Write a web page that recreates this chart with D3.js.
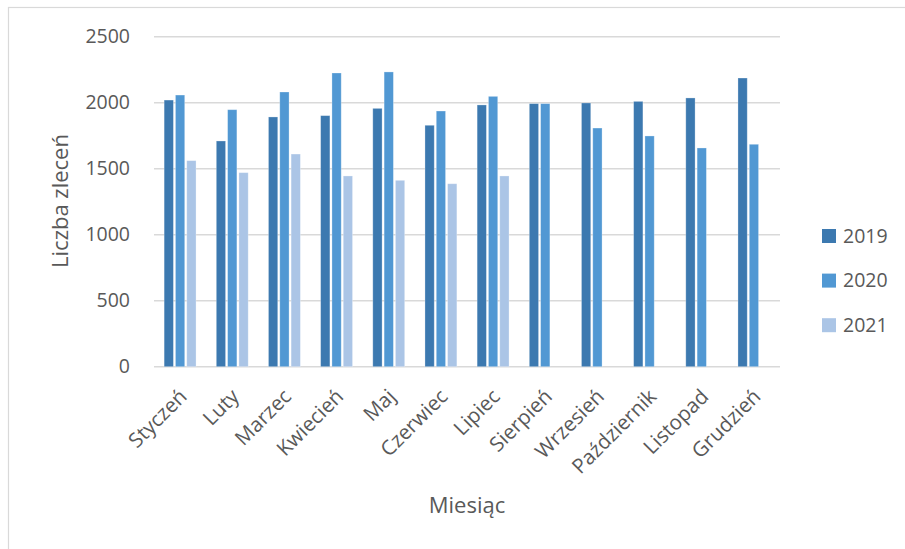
<!DOCTYPE html>
<html>
<head>
<meta charset="utf-8">
<script src="https://cdn.jsdelivr.net/npm/d3@7"></script>
<style>
  html, body { margin: 0; padding: 0; background: #fff; }
  svg { display: block; font-family: "Open Sans", sans-serif; }
</style>
</head>
<body>
<svg id="chart" width="905" height="549"></svg>
<script>
const months = ["Styczeń","Luty","Marzec","Kwiecień","Maj","Czerwiec","Lipiec","Sierpień","Wrzesień","Październik","Listopad","Grudzień"];
const seriesNames = ["2019","2020","2021"];
const values2019 = [2020,1710,1892,1902,1957,1829,1983,1993,1998,2010,2036,2187];
const values2020 = [2058,1947,2081,2225,2233,1937,2048,1993,1808,1748,1657,1685];
const values2021 = [1561,1470,1611,1445,1412,1386,1445,null,null,null,null,null];
const yTicks = [0,500,1000,1500,2000,2500];
const colors = ["#3C79B0","#5198D3","#ABC5E6"];

const allSeries = [values2019, values2020, values2021];
const svg = d3.select("#chart");
const W = 905, H = 549;
const plot = {left:154, right:780, top:36.7, bottom:366.7};

// chart border
svg.append("rect").attr("x",8.5).attr("y",7.5).attr("width",W).attr("height",H)
  .attr("fill","none").attr("stroke","#D9D9D9").attr("stroke-width",1.2);

const y = d3.scaleLinear().domain([0,2500]).range([plot.bottom, plot.top]);
const pi = 1 - 31.9/52.1667;
const x0 = d3.scaleBand().domain(months).range([plot.left, plot.right]).paddingInner(pi).paddingOuter(pi/2);
const x1 = d3.scaleBand().domain(seriesNames).range([0, x0.bandwidth()]).paddingInner(0.18).paddingOuter(0);

// gridlines
svg.append("g").selectAll("line").data(yTicks).join("line")
  .attr("x1",plot.left).attr("x2",plot.right)
  .attr("y1",d=>y(d)).attr("y2",d=>y(d))
  .attr("stroke","#D9D9D9").attr("stroke-width",1.5);

// y axis labels
const yAxis = d3.axisLeft(y).tickValues(yTicks).tickFormat(d3.format("d")).tickSize(0).tickPadding(0);
const gy = svg.append("g").attr("transform",`translate(130,0)`).call(yAxis);
gy.select(".domain").remove();
gy.selectAll("text").attr("font-family","Open Sans").attr("font-size","19.5px").attr("fill","#595959");

// bars
const barData = [];
months.forEach((m,i)=>{
  seriesNames.forEach((s,j)=>{
    const v = allSeries[j][i];
    if (v !== null) barData.push({m, s, v, j});
  });
});
svg.append("g").selectAll("rect").data(barData).join("rect")
  .attr("x",d=>x0(d.m)+x1(d.s))
  .attr("y",d=>y(d.v))
  .attr("width",x1.bandwidth())
  .attr("height",d=>y(0)-y(d.v))
  .attr("fill",d=>colors[d.j])
  .attr("stroke","rgba(255,255,255,0.35)").attr("stroke-width",0.8);

// x axis labels
const xAxis = d3.axisBottom(x0).tickSize(0).tickPadding(0);
const gx = svg.append("g").attr("transform",`translate(0,${plot.bottom})`).call(xAxis);
gx.select(".domain").remove();
gx.selectAll("text")
  .attr("font-family","Open Sans").attr("font-size","20.5px").attr("fill","#595959")
  .attr("text-anchor","end")
  .attr("dy","0.35em")
  .attr("transform","translate(3,26) rotate(-45)");

// axis titles
svg.append("text").attr("x",467).attr("y",513).attr("text-anchor","middle")
  .attr("font-size","22px").attr("fill","#595959").text("Miesiąc");
svg.append("text").attr("transform","translate(68,201) rotate(-90)").attr("text-anchor","middle")
  .attr("font-size","22px").attr("fill","#595959").text("Liczba zleceń");

// legend
const lg = svg.append("g").selectAll("g").data(seriesNames).join("g")
  .attr("transform",(d,i)=>`translate(822,${236 + i*44.6})`);
lg.append("rect").attr("x",0).attr("y",-7).attr("width",14).attr("height",14).attr("fill",(d,i)=>colors[i]);
lg.append("text").attr("x",21).attr("dy","0.35em").attr("font-size","19.5px").attr("fill","#595959").text(d=>d);
</script>
</body>
</html>
